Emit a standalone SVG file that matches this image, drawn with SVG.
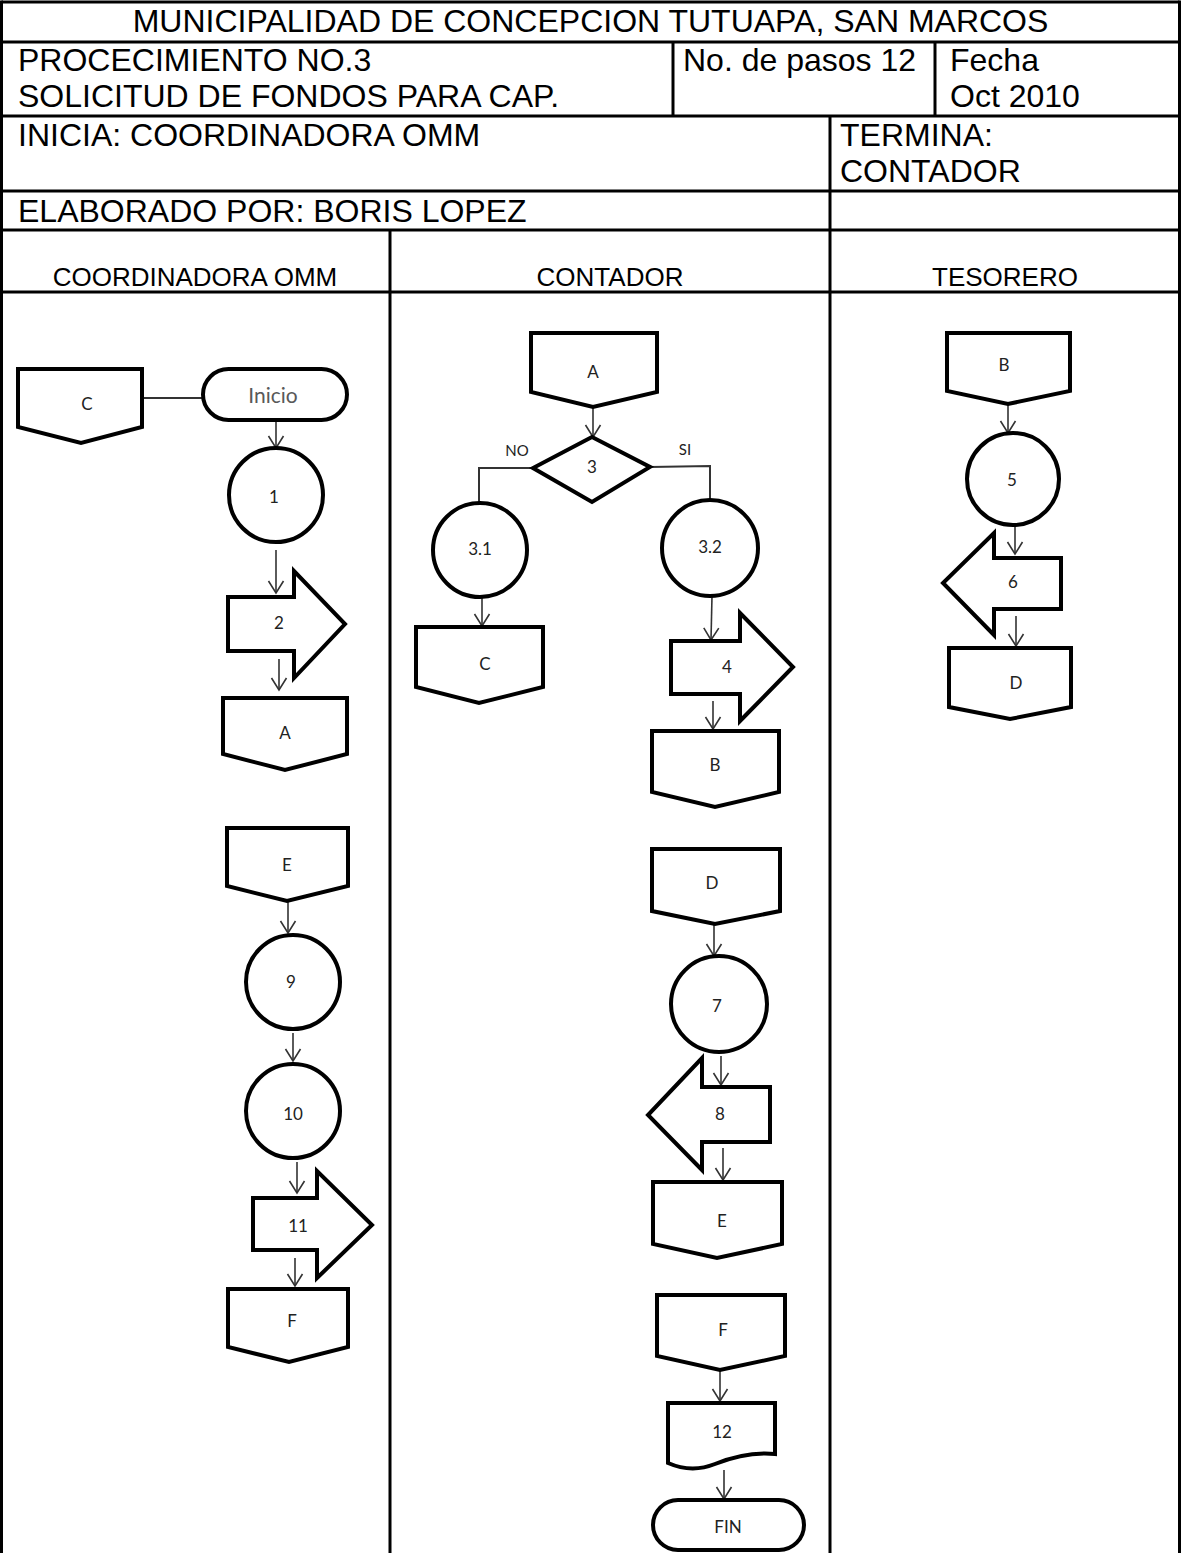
<svg xmlns="http://www.w3.org/2000/svg" width="1181" height="1553" viewBox="0 0 1181 1553">
  <style>
    .grid { stroke: #000; stroke-width: 3; fill: none; }
    .hdr { font-family: "Liberation Sans", Arial, sans-serif; font-size: 32px; fill: #000; }
    .lane { font-family: "Liberation Sans", Arial, sans-serif; font-size: 26px; fill: #000; text-anchor: middle; }
    .shape { fill: #fff; stroke: #000; stroke-width: 4; stroke-linejoin: miter; }
    .lbl { font-family: Lato, "Open Sans", sans-serif; font-size: 17px; fill: #222; text-anchor: middle; }
    .small { font-size: 15px; }
    .conn { fill: none; stroke: #333; stroke-width: 1.6; }
  </style>
  <defs>
    <marker id="arrow" markerUnits="userSpaceOnUse" markerWidth="20" markerHeight="20" viewBox="-14 -10 16 20" refX="0" refY="0" orient="auto">
      <path d="M-12,-7.5 L0,0 L-12,7.5" fill="none" stroke="#333" stroke-width="1.6"/>
    </marker>
  </defs>

  <rect width="1181" height="1553" fill="#fff"/>

  <!-- header table and swimlane grid -->
  <g id="table" class="grid">
    <line x1="1.5" y1="2" x2="1179.5" y2="2"/>
    <line x1="1.5" y1="0.5" x2="1.5" y2="1553"/>
    <line x1="1179.5" y1="0.5" x2="1179.5" y2="1553"/>
    <line x1="0" y1="42" x2="1181" y2="42"/>
    <line x1="0" y1="116" x2="1181" y2="116"/>
    <line x1="0" y1="191" x2="1181" y2="191"/>
    <line x1="0" y1="230" x2="1181" y2="230"/>
    <line x1="0" y1="292" x2="1181" y2="292"/>
    <line x1="673" y1="42" x2="673" y2="116"/>
    <line x1="935" y1="42" x2="935" y2="116"/>
    <line x1="830" y1="116" x2="830" y2="1553"/>
    <line x1="390" y1="230" x2="390" y2="1553"/>
  </g>

  <g id="header-text">
    <text class="hdr" x="590.5" y="32" text-anchor="middle">MUNICIPALIDAD DE CONCEPCION TUTUAPA, SAN MARCOS</text>
    <text class="hdr" x="18" y="71">PROCECIMIENTO NO.3</text>
    <text class="hdr" x="18" y="107">SOLICITUD DE FONDOS PARA CAP.</text>
    <text class="hdr" x="683" y="71">No. de pasos 12</text>
    <text class="hdr" x="950" y="71">Fecha</text>
    <text class="hdr" x="950" y="107">Oct 2010</text>
    <text class="hdr" x="18" y="146">INICIA: COORDINADORA OMM</text>
    <text class="hdr" x="840" y="146">TERMINA:</text>
    <text class="hdr" x="840" y="182">CONTADOR</text>
    <text class="hdr" x="18" y="222">ELABORADO POR: BORIS LOPEZ</text>
    <text class="lane" x="195" y="286">COORDINADORA OMM</text>
    <text class="lane" x="610" y="286">CONTADOR</text>
    <text class="lane" x="1005" y="286">TESORERO</text>
  </g>

  <!-- connectors -->
  <g id="connectors" class="conn">
    <line x1="142" y1="398" x2="203" y2="398" stroke-width="2"/>
    <line x1="276" y1="420" x2="276" y2="448" marker-end="url(#arrow)"/>
    <line x1="276" y1="550" x2="276" y2="593" marker-end="url(#arrow)"/>
    <line x1="279" y1="659" x2="279" y2="690" marker-end="url(#arrow)"/>
    <line x1="288" y1="902" x2="288" y2="933" marker-end="url(#arrow)"/>
    <line x1="293" y1="1033" x2="293" y2="1061" marker-end="url(#arrow)"/>
    <line x1="297" y1="1162" x2="297" y2="1193" marker-end="url(#arrow)"/>
    <line x1="295" y1="1258" x2="295" y2="1286" marker-end="url(#arrow)"/>

    <line x1="593" y1="407" x2="593" y2="437" marker-end="url(#arrow)"/>
    <polyline points="533,468 479,468 479,503" stroke-width="2"/>
    <polyline points="650,467 710,466 710,500" stroke-width="2"/>
    <line x1="482" y1="597" x2="482" y2="626" marker-end="url(#arrow)"/>
    <line x1="712" y1="596" x2="711" y2="640" marker-end="url(#arrow)"/>
    <line x1="713" y1="701" x2="713" y2="729" marker-end="url(#arrow)"/>
    <line x1="714" y1="924" x2="714" y2="956" marker-end="url(#arrow)"/>
    <line x1="721" y1="1056" x2="721" y2="1085" marker-end="url(#arrow)"/>
    <line x1="723" y1="1148" x2="723" y2="1180" marker-end="url(#arrow)"/>
    <line x1="720" y1="1370" x2="720" y2="1401" marker-end="url(#arrow)"/>
    <line x1="724" y1="1470" x2="724" y2="1499" marker-end="url(#arrow)"/>

    <line x1="1008" y1="404" x2="1008" y2="433" marker-end="url(#arrow)"/>
    <line x1="1015" y1="527" x2="1015" y2="554" marker-end="url(#arrow)"/>
    <line x1="1016" y1="616" x2="1016" y2="646" marker-end="url(#arrow)"/>
  </g>

  <!-- COORDINADORA OMM lane -->
  <g id="c-offpage-1">
    <path class="shape" d="M18,369 H142 V427 L81,443 L18,427 Z"/>
    <text class="lbl" x="87" y="410">C</text>
  </g>
  <g id="inicio">
    <rect class="shape" x="203" y="369" width="144" height="51" rx="25.5"/>
    <text class="lbl" x="273" y="403" style="font-size:21px;fill:#595959">Inicio</text>
  </g>
  <g id="step-1">
    <circle class="shape" cx="276" cy="495" r="47"/>
    <text class="lbl" x="274" y="503">1</text>
  </g>
  <g id="step-2">
    <polygon class="shape" points="228,597 294,597 294,571 345,624 294,678 294,651 228,651"/>
    <text class="lbl" x="279" y="629">2</text>
  </g>
  <g id="a-offpage-1">
    <path class="shape" d="M223,698 H347 V754 L285,770 L223,754 Z"/>
    <text class="lbl" x="285" y="739">A</text>
  </g>
  <g id="e-offpage-1">
    <path class="shape" d="M227,828 H348 V886 L287,901 L227,886 Z"/>
    <text class="lbl" x="287" y="871">E</text>
  </g>
  <g id="step-9">
    <circle class="shape" cx="293" cy="982" r="47"/>
    <text class="lbl" x="291" y="988">9</text>
  </g>
  <g id="step-10">
    <circle class="shape" cx="293" cy="1111" r="47"/>
    <text class="lbl" x="293" y="1120">10</text>
  </g>
  <g id="step-11">
    <polygon class="shape" points="253,1198 317,1198 317,1171 372,1225 317,1278 317,1250 253,1250"/>
    <text class="lbl" x="298" y="1232">11</text>
  </g>
  <g id="f-offpage-1">
    <path class="shape" d="M228,1289 H348 V1347 L289,1362 L228,1347 Z"/>
    <text class="lbl" x="292" y="1327">F</text>
  </g>

  <!-- CONTADOR lane -->
  <g id="a-offpage-2">
    <path class="shape" d="M531,333 H657 V392 L593,407 L531,392 Z"/>
    <text class="lbl" x="593" y="378">A</text>
  </g>
  <g id="step-3">
    <polygon class="shape" points="592,437 650,467 592,502 533,468"/>
    <text class="lbl" x="592" y="473">3</text>
    <text class="lbl small" x="517" y="456">NO</text>
    <text class="lbl small" x="685" y="455">SI</text>
  </g>
  <g id="step-3-1">
    <circle class="shape" cx="480" cy="550" r="47"/>
    <text class="lbl" x="480" y="555">3.1</text>
  </g>
  <g id="step-3-2">
    <circle class="shape" cx="710" cy="548" r="48"/>
    <text class="lbl" x="710" y="553">3.2</text>
  </g>
  <g id="c-offpage-2">
    <path class="shape" d="M416,627 H543 V687 L479,703 L416,687 Z"/>
    <text class="lbl" x="485" y="670">C</text>
  </g>
  <g id="step-4">
    <polygon class="shape" points="671,641 740,641 740,613 793,667 740,721 740,694 671,694"/>
    <text class="lbl" x="727" y="673">4</text>
  </g>
  <g id="b-offpage-2">
    <path class="shape" d="M652,731 H779 V792 L715,807 L652,792 Z"/>
    <text class="lbl" x="715" y="771">B</text>
  </g>
  <g id="d-offpage-2">
    <path class="shape" d="M652,849 H780 V911 L715,924 L652,911 Z"/>
    <text class="lbl" x="712" y="889">D</text>
  </g>
  <g id="step-7">
    <circle class="shape" cx="719" cy="1004" r="48"/>
    <text class="lbl" x="717" y="1012">7</text>
  </g>
  <g id="step-8">
    <polygon class="shape" points="770,1087 702,1087 702,1058 648,1115 702,1170 702,1142 770,1142"/>
    <text class="lbl" x="720" y="1120">8</text>
  </g>
  <g id="e-offpage-2">
    <path class="shape" d="M653,1182 H782 V1244 L717,1258 L653,1244 Z"/>
    <text class="lbl" x="722" y="1227">E</text>
  </g>
  <g id="f-offpage-2">
    <path class="shape" d="M657,1295 H785 V1356 L720,1370 L657,1356 Z"/>
    <text class="lbl" x="723" y="1336">F</text>
  </g>
  <g id="step-12">
    <path class="shape" d="M668,1403 H775 V1454 C755,1452 735,1456 715,1464 C700,1470 684,1470 668,1463 Z"/>
    <text class="lbl" x="722" y="1438">12</text>
  </g>
  <g id="fin">
    <rect class="shape" x="653" y="1500" width="151" height="50" rx="25"/>
    <text class="lbl" x="728" y="1533">FIN</text>
  </g>

  <!-- TESORERO lane -->
  <g id="b-offpage-3">
    <path class="shape" d="M947,333 H1070 V391 L1008,404 L947,391 Z"/>
    <text class="lbl" x="1004" y="371">B</text>
  </g>
  <g id="step-5">
    <circle class="shape" cx="1013" cy="479" r="46"/>
    <text class="lbl" x="1012" y="486">5</text>
  </g>
  <g id="step-6">
    <polygon class="shape" points="1061,558 994,558 994,533 943,583 994,635 994,609 1061,609"/>
    <text class="lbl" x="1013" y="588">6</text>
  </g>
  <g id="d-offpage-3">
    <path class="shape" d="M949,648 H1071 V707 L1010,719 L949,707 Z"/>
    <text class="lbl" x="1016" y="689">D</text>
  </g>
</svg>
